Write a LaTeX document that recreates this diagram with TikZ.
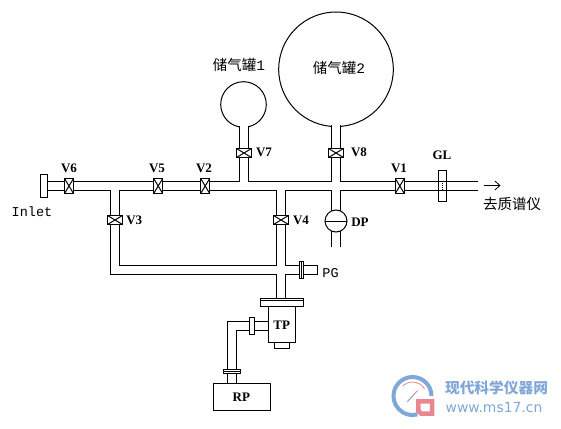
\documentclass[tikz,border=0pt]{standalone}
\usepackage{fontspec}
\setmainfont{Liberation Serif}
\setmonofont{Liberation Mono}
\setsansfont{DejaVu Sans}
\newfontfamily\cjk{Noto Sans CJK SC}
\usetikzlibrary{arrows.meta, positioning, calc}
\definecolor{LogoBlue}{HTML}{7FA8D8}
\definecolor{LogoRed}{HTML}{E88791}
\tikzset{
    part/.style={draw=black, line width=1pt, fill=white, inner sep=0pt, outer sep=0pt},
    valvebox/.style={part, line width=1.3pt, path picture={\draw[line width=1pt] (path picture bounding box.north west) -- (path picture bounding box.south east) (path picture bounding box.north east) -- (path picture bounding box.south west);}},
    valvev/.style={valvebox, minimum width=9pt, minimum height=15pt},
    valveh/.style={valvebox, minimum width=15pt, minimum height=9pt},
    flange/.style={part, minimum width=#1},
    tank/.style={part, circle, minimum size=#1},
    lbl/.style={font=\fontsize{13}{14}\selectfont\bfseries, inner sep=0pt},
    txt/.style={font=\fontsize{13.5}{14}\selectfont\ttfamily, inner sep=0pt},
    cn/.style={font=\fontsize{14.5}{16}\selectfont\cjk, inner sep=0pt}
}

\begin{document}
\begin{tikzpicture}[x=1pt, y=-1pt, line width=1pt]
    \path[fill=white, use as bounding box] (0,0) rectangle (561,428);

    % Tanks
    \node[tank=45.6pt] (tank1) at (243.5,104.5) {};
    \node[tank=114.6pt] (tank2) at (336,69.3) {};

    % Fixed points of the pipe run
    \coordinate (neck1) at ($(tank1.south)+(0,-1.5)$);
    \coordinate (neck2) at ($(tank2.south)+(0,-1.5)$);
    \coordinate (mainin) at (44,186);
    \coordinate (mainout) at (477.5,186);
    \coordinate (j7) at (244,186);
    \coordinate (j8) at (336,186);
    \coordinate (j3) at (115,186);
    \coordinate (j4) at (281,186);
    \coordinate (lowbend) at (115,270);
    \coordinate (lowj) at (281,270);
    \coordinate (pgend) at (317.5,270);
    \coordinate (dpend) at (336,246.7);
    \coordinate (tpin) at (281,300);
    \coordinate (rpin) at (232,385);
    \coordinate (sidebend) at (232,326);
    \coordinate (sidein) at (270,326);

    % Pipes: walls first, then the bore
    \foreach \wd/\col in {10pt/black, 8pt/white} {
        \draw[line width=\wd, draw=\col] (mainin) -- (mainout);
        \draw[line width=\wd, draw=\col] (j7) -- (j7 |- neck1);
        \draw[line width=\wd, draw=\col] (j8) -- (j8 |- neck2);
        \draw[line width=\wd, draw=\col] (j8) -- (dpend);
        \draw[line width=\wd, draw=\col] (j3) -- (lowbend) -- (lowj);
        \draw[line width=\wd, draw=\col] (j4) -- (tpin);
        \draw[line width=\wd, draw=\col] (lowj) -- (pgend);
        \draw[line width=\wd, draw=\col] (sidein) -- (sidebend) -- (rpin);
    }
    \draw ($(pgend)+(0,-5)$) -- ($(pgend)+(0,5)$);

    % Valves
    \node[valvev] (V6) at (69,186) {};
    \node[valvev] (V5) at (158.2,186) {};
    \node[valvev] (V2) at (205.2,186) {};
    \node[valvev] (V1) at (399.8,186) {};
    \node[valveh] (V7) at (244,153) {};
    \node[valveh] (V8) at (336,153) {};
    \node[valveh] (V3) at (115,220) {};
    \node[valveh] (V4) at (281,220) {};

    % Flanges and pumps
    \node[flange=7pt, minimum height=23pt] (inlet) at (44,185.8) {};
    \node[draw, line width=1pt, minimum width=8pt, minimum height=31pt, inner sep=0pt] (GLbox) at (442.7,185.8) {};
    \draw[densely dotted] ($(GLbox.center)+(0,-4.5)$) -- ($(GLbox.center)+(0,4.5)$);
    \node[part, circle, minimum size=22pt] (DPbody) at (336,221) {};
    \draw (DPbody.west) -- (DPbody.east);
    \node[flange=4.4pt, minimum height=17.4pt] (PGflange) at (301.5,270) {};
    \draw (PGflange.north) -- (PGflange.south);
    \node[flange=43.4pt, minimum height=8.6pt] (TPflange) at (282,302.6) {};
    \draw ($(TPflange.north west)+(0,2.6)$) -- ($(TPflange.north east)+(0,2.6)$);
    \node[flange=26.4pt, minimum height=35.6pt, below=0pt of TPflange] (TPbody) {};
    \node[flange=14.4pt, minimum height=6.4pt, below=0pt of TPbody] (TPfoot) {};
    \node[flange=4.7pt, minimum height=17.4pt] (sideflange) at (252.3,326) {};
    \node[flange=17.4pt, minimum height=4.4pt] (rpflange) at (232,371.5) {};
    \draw (rpflange.west) -- (rpflange.east);
    \node[flange=57.4pt, minimum height=27.4pt] (RPbody) at (242,397) {};

    % Outlet arrow
    \coordinate (outa) at (483.5,185.5);
    \coordinate (outb) at (500.5,185.5);
    \draw[-{Straight Barb[length=5pt, width=9pt]}, line width=0.8pt] (outa) -- (outb);

    % Labels
    \node[lbl] (V6lbl) at (69,168.7) {V6};
    \node[lbl] (V5lbl) at (157,168.7) {V5};
    \node[lbl] (V2lbl) at (204,168.7) {V2};
    \node[lbl] (V1lbl) at (399,168.7) {V1};
    \node[lbl] (V7lbl) at (264,152.7) {V7};
    \node[lbl] (V8lbl) at (359,152.7) {V8};
    \node[lbl] (V3lbl) at (134.2,220.3) {V3};
    \node[lbl] (V4lbl) at (301,220.3) {V4};
    \node[lbl] (GLlbl) at (442,155.7) {GL};
    \node[lbl] (DPlbl) at (360,222.3) {DP};
    \node[lbl] (TPlbl) at (281.7,325.3) {TP};
    \node[lbl] (RPlbl) at (241.3,397.3) {RP};
    \node[txt] (PGlbl) at (330.5,273.3) {PG};
    \node[txt] (inletlbl) at (32,212) {Inlet};
    \node[cn] (tank1lbl) at (239,65) {储气罐{\ttfamily 1}};
    \node[cn] (tank2lbl) at (339,68) {储气罐{\ttfamily 2}};
    \node[cn] (outlbl) at (512,204) {去质谱仪};

    % Watermark
    \coordinate (logoc) at (412.5,396);
    \draw[LogoBlue, line width=4pt] (logoc) ++(0:19pt) arc[start angle=0, end angle=285, radius=19pt];
    \draw[LogoRed, line width=0.8pt] (logoc) ++(30:14pt) arc[start angle=30, end angle=135, radius=14pt];
    \draw[LogoBlue, line width=1pt] (407.3,401.7) -- (412.5,396);
    \draw[LogoRed, line width=1pt] (412.5,396) -- (417.3,390.7);
    \draw[LogoRed, line width=4.5pt, fill=white] (418.3,401.3) -- (432,401.3) -- (432,413.5) -- (421,413.5) -- (418.3,411) -- cycle;
    \node[inner sep=0pt, text=LogoBlue, font=\fontsize{14.7}{16}\selectfont\cjk\bfseries] (wmcn) at (496.5,388) {现代科学仪器网};
    \node[inner sep=0pt, text=LogoBlue, font=\fontsize{13.9}{16}\selectfont\sffamily] (wmurl) at (494,408) {www.ms17.cn};
\end{tikzpicture}
\end{document}
